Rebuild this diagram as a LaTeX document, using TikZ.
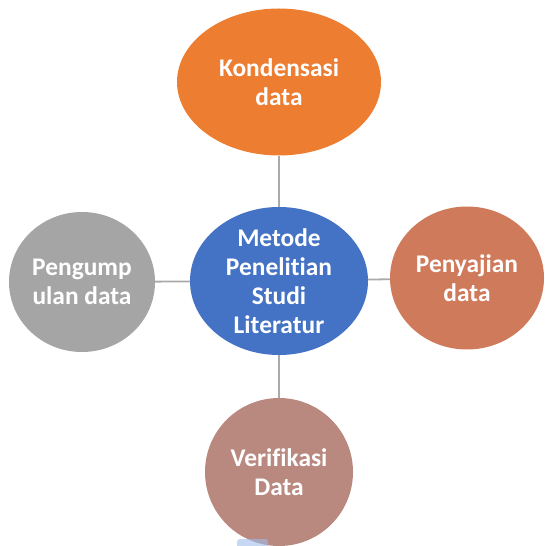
\documentclass[tikz,border=0pt]{standalone}
\usepackage{fontspec}
\setmainfont[Ligatures=NoCommon]{Carlito}
\usetikzlibrary{shapes.geometric}
\definecolor{cOrange}{RGB}{237,125,49}
\definecolor{cBlue}{RGB}{68,114,196}
\definecolor{cGrey}{RGB}{165,165,165}
\definecolor{cRust}{RGB}{208,122,92}
\definecolor{cRose}{RGB}{185,137,128}
\definecolor{cLine}{RGB}{170,170,170}
\definecolor{cSel}{RGB}{160,190,235}
\tikzset{
  bubble/.style={ellipse, inner sep=0pt, draw=none, text=white, align=center,
    font=\fontsize{25.5}{29}\selectfont\bfseries},
  link/.style={draw=cLine, line width=1.8bp}
}
\begin{document}
\begin{tikzpicture}[x=1bp,y=-1bp]
\useasboundingbox (0,0) rectangle (545,546);
\node[bubble, fill=cOrange, minimum width=204bp, minimum height=147bp] (kon) at (279,82) {Kondensasi\\data};
\node[bubble, fill=cBlue, minimum width=178bp, minimum height=138bp] (met) at (279,281) {Metode\\Penelitian\\Studi\\Literatur};
\node[bubble, fill=cGrey, minimum width=146bp, minimum height=140bp] (pen) at (82,282) {Pengump\\ulan data};
\node[bubble, fill=cRust, minimum width=154bp, minimum height=143bp] (pny) at (467,278) {Penyajian\\data};
\node[bubble, fill=cRose, minimum width=148bp, minimum height=148bp] (ver) at (279,472) {Verifikasi\\Data};
\draw[link] (kon) -- (met);
\draw[link] (pen) -- (met);
\draw[link] (met) -- (pny);
\draw[link] (met) -- (ver);
\fill[cSel, opacity=0.6, rounded corners=3bp] (237,539) rectangle (268,550);
\end{tikzpicture}
\end{document}
